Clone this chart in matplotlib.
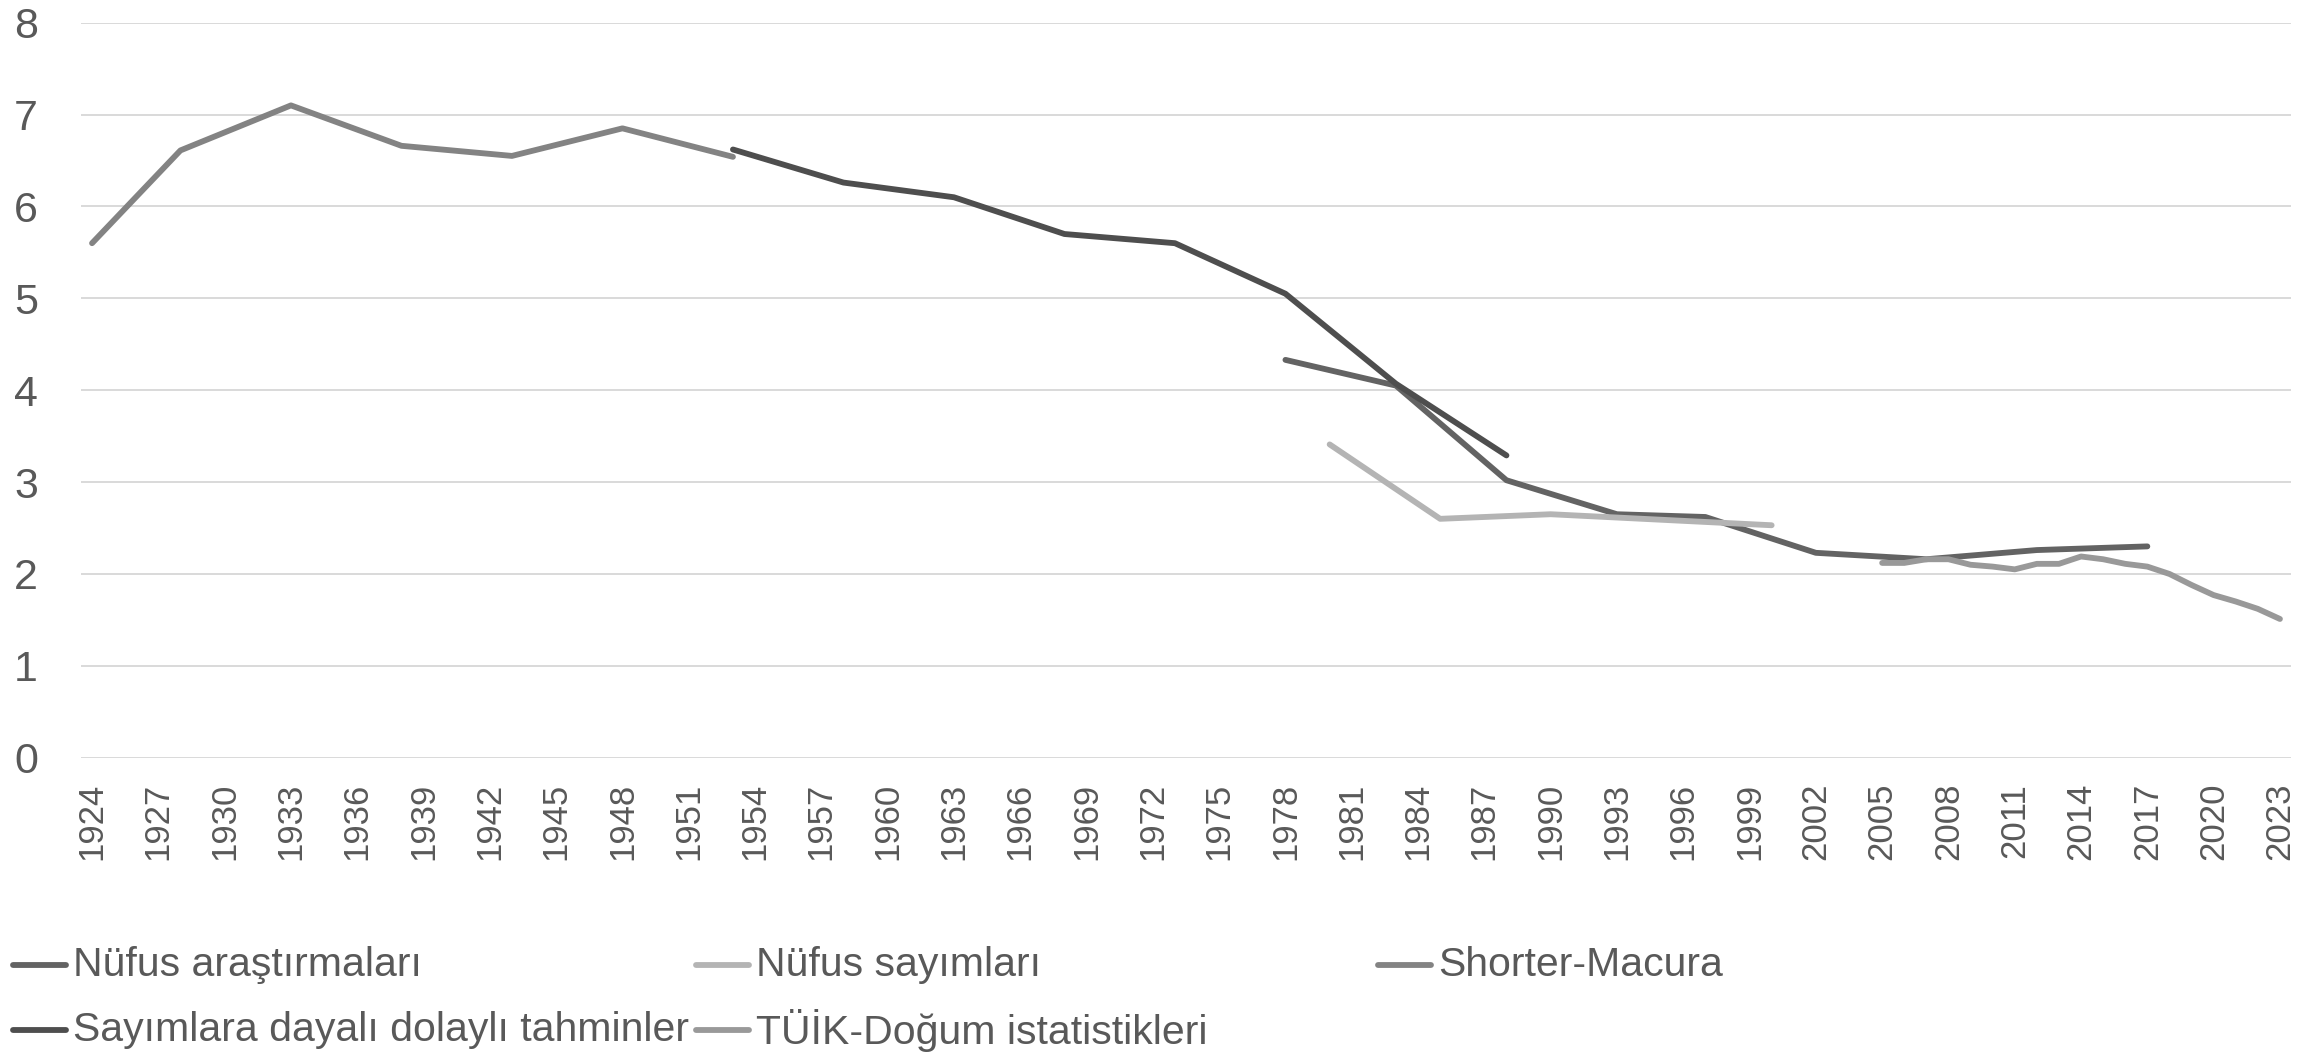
import matplotlib
matplotlib.use("Agg")
import matplotlib.pyplot as plt
from matplotlib.lines import Line2D

plt.rcParams['font.family'] = ['Liberation Sans', 'DejaVu Sans']

# --- data ---
arastirma_years = [1978, 1983, 1988, 1993, 1997, 2002, 2007, 2012, 2017]
arastirma_vals = [4.33, 4.05, 3.02, 2.65, 2.62, 2.23, 2.16, 2.26, 2.30]

sayim_years = [1980, 1985, 1990, 2000]
sayim_vals = [3.41, 2.60, 2.65, 2.53]

shorter_years = [1924, 1928, 1933, 1938, 1943, 1948, 1953]
shorter_vals = [5.60, 6.61, 7.10, 6.66, 6.55, 6.85, 6.54]

dolayli_years = [1953, 1958, 1963, 1968, 1973, 1978, 1983, 1988]
dolayli_vals = [6.62, 6.26, 6.10, 5.70, 5.60, 5.05, 4.07, 3.29]

tuik_years = list(range(2005, 2024))
tuik_vals = [2.12, 2.12, 2.16, 2.16, 2.10, 2.08, 2.05, 2.11, 2.11, 2.19,
             2.16, 2.11, 2.08, 2.00, 1.88, 1.77, 1.70, 1.62, 1.51]

tick_years = list(range(1924, 2024, 3))
y_ticks = list(range(0, 9))

series = [
    ('Nüfus araştırmaları', arastirma_years, arastirma_vals, '#636363'),
    ('Nüfus sayımları', sayim_years, sayim_vals, '#b4b4b4'),
    ('Shorter-Macura', shorter_years, shorter_vals, '#838383'),
    ('Sayımlara dayalı dolaylı tahminler', dolayli_years, dolayli_vals, '#4e4e4e'),
    ('TÜİK-Doğum istatistikleri', tuik_years, tuik_vals, '#999999'),
]

text_color = '#595959'
W, H = 2323, 1054
fig = plt.figure(figsize=(W / 100, H / 100), dpi=100)
ax = fig.add_axes([81 / W, 1 - 757.7 / H, (2291 - 81) / W, (757.7 - 22.7) / H])

for name, xs, ys, col in series:
    ax.plot(xs, ys, color=col, lw=4.2, solid_capstyle='round',
            solid_joinstyle='round', zorder=3)

ax.set_xlim(1923.5, 2023.5)
ax.set_ylim(0, 8)
ax.set_yticks(y_ticks)
ax.set_xticks(tick_years)
ax.set_xticklabels([str(y) for y in tick_years], rotation=90)
ax.grid(axis='y', color='#d9d9d9', lw=1.4, zorder=1)
ax.grid(axis='x', visible=False)
for s in ax.spines.values():
    s.set_visible(False)
ax.tick_params(axis='y', length=0, pad=31, labelsize=31, labelcolor=text_color)
ax.tick_params(axis='x', length=0, pad=18, labelsize=25, labelcolor=text_color)
ax.set_axisbelow(True)

# legend laid out like the original (3 columns, 2 rows)
legend_pos = [(13, 965), (696, 965), (1378, 965), (13, 1030), (696, 1030)]
for (name, xs, ys, col), (lx, ly) in zip(series, legend_pos):
    fy = 1 - ly / H
    fig.add_artist(Line2D([lx / W, (lx + 53) / W], [fy, fy], color=col, lw=4.2,
                          solid_capstyle='round', transform=fig.transFigure))
    fig.text((lx + 60) / W, fy, name, fontsize=29.5, color=text_color,
             va='center', ha='left')

fig.savefig('out.png', dpi=100)
